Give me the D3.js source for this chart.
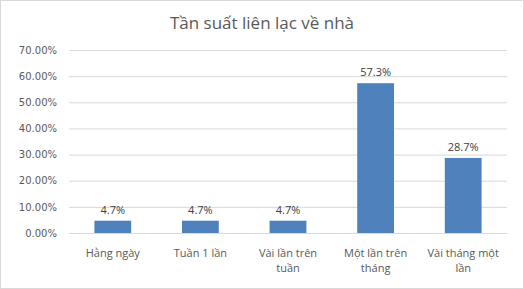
<!DOCTYPE html>
<html>
<head>
<meta charset="utf-8">
<script src="https://cdn.jsdelivr.net/npm/d3@7"></script>
<style>
  body { margin: 0; background: #fff; }
</style>
</head>
<body>
<div id="chart"></div>
<script>
/* DATA */
const categories = ["Hằng ngày", "Tuần 1 lần", "Vài lần trên tuần", "Một lần trên tháng", "Vài tháng một lần"];
const categoryLines = [["Hằng ngày"], ["Tuần 1 lần"], ["Vài lần trên", "tuần"], ["Một lần trên", "tháng"], ["Vài tháng một", "lần"]];
const values = [4.7, 4.7, 4.7, 57.3, 28.7];
const yTicks = [0, 10, 20, 30, 40, 50, 60, 70];

/* CONSTANTS */
const width = 524,
  height = 289,
  margin = { top: 50, bottom: 56, left: 69, right: 17 };

const svg = d3.select("#chart")
  .append("svg")
  .attr("width", width)
  .attr("height", height);

// chart border
svg.append("rect")
  .attr("x", 0.5).attr("y", 0.5)
  .attr("width", width - 1).attr("height", height - 1)
  .attr("fill", "#fff")
  .attr("stroke", "#d9d9d9");

// + SCALES
const xScale = d3.scaleBand()
  .domain(categories)
  .range([margin.left, width - margin.right])
  .paddingInner(0.58)
  .paddingOuter(0.29);

const yScale = d3.scaleLinear()
  .domain([0, 70])
  .range([height - margin.bottom, margin.top]);

// title
svg.append("text")
  .attr("x", width / 2)
  .attr("y", 29)
  .attr("text-anchor", "middle")
  .attr("font-family", "Open Sans, sans-serif")
  .attr("font-size", 17)
  .attr("fill", "#595959")
  .text("Tần suất liên lạc về nhà");

// + Y AXIS (gridlines + labels)
const yAxis = d3.axisLeft(yScale)
  .tickValues(yTicks)
  .tickSize(-(width - margin.left - margin.right))
  .tickPadding(12)
  .tickFormat(d => d3.format(".2f")(d) + "%");

const yAxisGroup = svg.append("g")
  .attr("transform", `translate(${margin.left}, 0)`)
  .call(yAxis);

yAxisGroup.select(".domain").remove();
yAxisGroup.selectAll(".tick line")
  .attr("stroke", "#d9d9d9");
yAxisGroup.selectAll(".tick text")
  .attr("font-family", "DejaVu Sans, sans-serif")
  .attr("font-size", 10)
  .attr("fill", "#595959");

// + X AXIS labels
const xAxisGroup = svg.append("g")
  .attr("transform", `translate(0, ${height - margin.bottom})`)
  .call(d3.axisBottom(xScale).tickSize(0).tickFormat(""));
xAxisGroup.select(".domain").attr("stroke", "#d9d9d9");

xAxisGroup.selectAll(".tick")
  .data(categories)
  .each(function (d, i) {
    const t = d3.select(this).append("text")
      .attr("text-anchor", "middle")
      .attr("font-family", "Open Sans, sans-serif")
      .attr("font-size", 11)
      .attr("fill", "#595959")
      .attr("y", 24);
    categoryLines[i].forEach((line, j) => {
      t.append("tspan")
        .attr("x", 0)
        .attr("dy", j === 0 ? 0 : 14.5)
        .text(line);
    });
  });

// + BARS
svg.selectAll(".bar")
  .data(values)
  .join("rect")
  .attr("class", "bar")
  .attr("x", (d, i) => xScale(categories[i]))
  .attr("y", d => yScale(d))
  .attr("width", xScale.bandwidth())
  .attr("height", d => yScale(0) - yScale(d))
  .attr("fill", "#4f81bd");

// + DATA LABELS
svg.selectAll(".label")
  .data(values)
  .join("text")
  .attr("class", "label")
  .attr("x", (d, i) => xScale(categories[i]) + xScale.bandwidth() / 2)
  .attr("y", d => yScale(d) - 7)
  .attr("text-anchor", "middle")
  .attr("font-family", "Open Sans, sans-serif")
  .attr("font-size", 11)
  .attr("fill", "#404040")
  .text(d => d3.format(".1f")(d) + "%");
</script>
</body>
</html>
